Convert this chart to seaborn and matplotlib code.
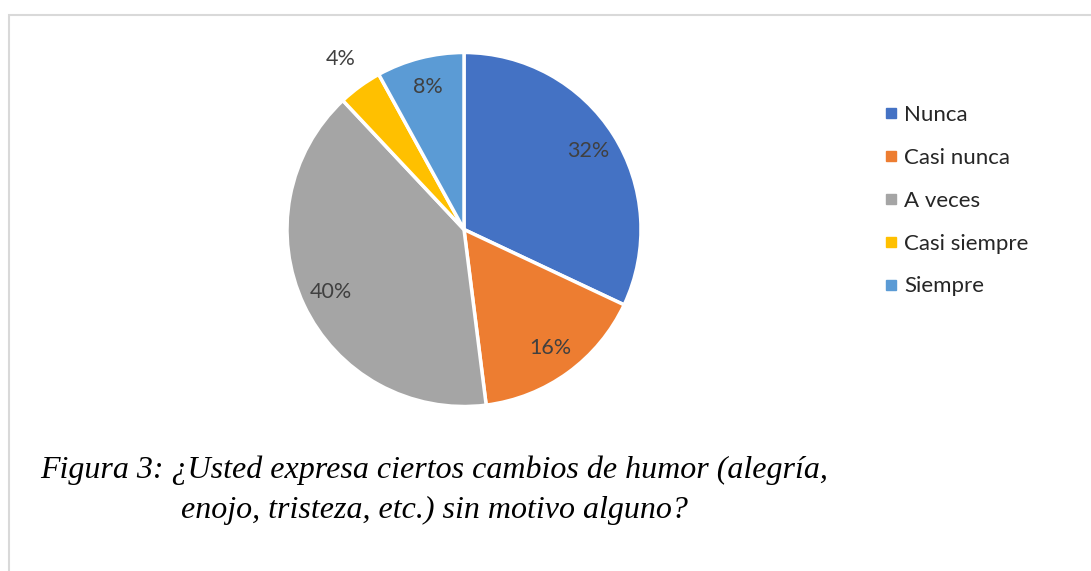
import matplotlib
matplotlib.use("Agg")
import matplotlib.pyplot as plt
import numpy as np
import seaborn as sns
from matplotlib.lines import Line2D
from matplotlib.patches import Rectangle

# datos de la pregunta
categorias = ["Nunca", "Casi nunca", "A veces", "Casi siempre", "Siempre"]
porcentajes = [32, 16, 40, 4, 8]
colores = ["#4472C4", "#ED7D31", "#A5A5A5", "#FFC000", "#5B9BD5"]
titulo = "Figura 3: ¿Usted expresa ciertos cambios de humor (alegría,\nenojo, tristeza, etc.) sin motivo alguno?"

sns.set_theme(style="white")
plt.rcParams["font.family"] = ["Lato", "DejaVu Sans"]

W, H = 1091, 571
fig = plt.figure(figsize=(W / 100, H / 100), dpi=100)
fig.patch.set_facecolor("white")

# marco gris del area del grafico
fig.patches.append(Rectangle((9 / W, -0.1), 1.2, 1 - 15 / H + 0.1, transform=fig.transFigure,
                             fill=False, edgecolor="#D9D9D9", linewidth=1.5))

# eje de la torta (centro ~ (464, 229), radio ~177 px)
cx, cy, r = 464, 229.5, 177
ax = fig.add_axes([(cx - r) / W, (H - cy - r) / H, 2 * r / W, 2 * r / H])
paleta = sns.color_palette(colores)
wedges, texts, autotexts = ax.pie(
    porcentajes, colors=paleta, startangle=90, counterclock=False,
    autopct="%1.0f%%", pctdistance=0.83, radius=1,
    wedgeprops=dict(edgecolor="white", linewidth=2.5),
    textprops=dict(color="#404040", fontsize=15.5))
ax.set_xlim(-1, 1)
ax.set_ylim(-1, 1)
ax.set_aspect("auto")
ax.axis("off")

# la etiqueta pequena queda fuera de la porcion
for w, t, v in zip(wedges, autotexts, porcentajes):
    if v < 5:
        ang = np.deg2rad((w.theta1 + w.theta2) / 2)
        t.set_position((1.19 * np.cos(ang), 1.19 * np.sin(ang)))

# leyenda
handles = [Line2D([0], [0], marker="s", linestyle="none", markersize=6.5,
                  markerfacecolor=c, markeredgecolor=c) for c in paleta]
leg = fig.legend(handles, categorias, loc="upper left",
                 bbox_to_anchor=(875 / W, 1 - 96 / H), frameon=False,
                 fontsize=16, labelspacing=1.03, handlelength=0.6,
                 handletextpad=0.3, borderaxespad=0)

# titulo de la figura
fig.text(434 / W, 1 - 490 / H, titulo, ha="center", va="center",
         multialignment="center", fontsize=23, style="italic",
         family=["Liberation Serif"], color="#000000", linespacing=1.5)

fig.savefig("out.png", dpi=100, facecolor="white")
